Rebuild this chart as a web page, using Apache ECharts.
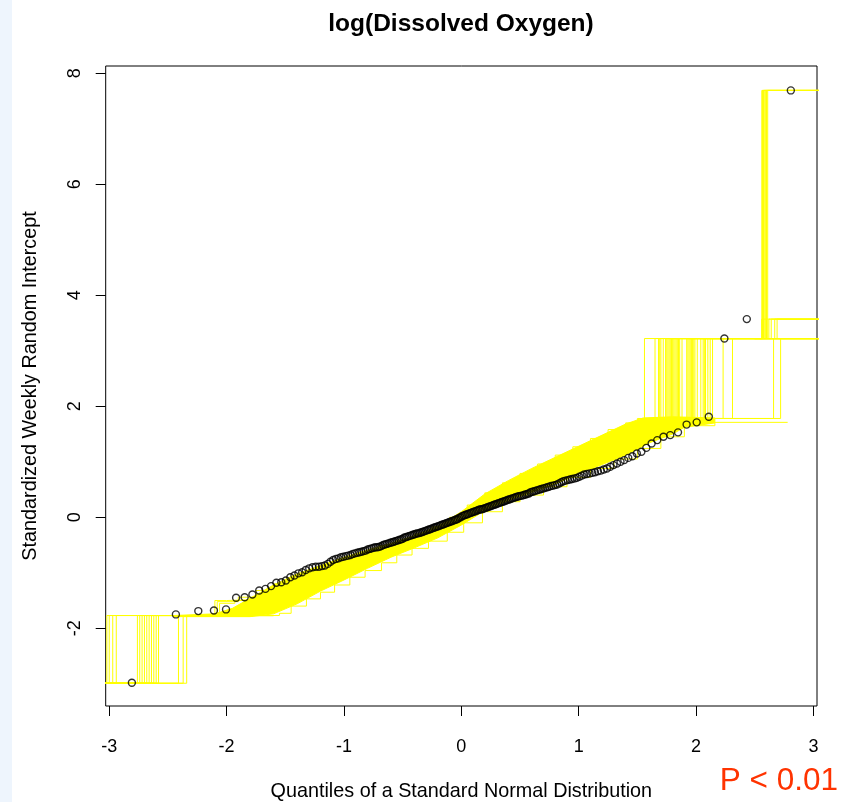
<!DOCTYPE html>
<html>
<head>
<meta charset="utf-8">
<script src="https://cdn.jsdelivr.net/npm/echarts@6/dist/echarts.min.js"></script>
<style>
  html, body { margin: 0; padding: 0; background: #ffffff; }
  #chart { width: 857px; height: 802px; }
</style>
</head>
<body>
<div id="chart"></div>
<script>
// Axis ticks
const xTicks = [-3, -2, -1, 0, 1, 2, 3];
const yTicks = [-2, 0, 2, 4, 6, 8];

// Theoretical normal quantiles (200 weeks)
const theoQ = [
  -2.807,-2.432,-2.241,-2.108,-2.005,-1.919,-1.846,-1.780,-1.722,-1.669,
  -1.621,-1.576,-1.534,-1.495,-1.457,-1.422,-1.388,-1.356,-1.326,-1.296,
  -1.268,-1.240,-1.213,-1.188,-1.163,-1.138,-1.115,-1.092,-1.069,-1.047,
  -1.026,-1.005,-0.984,-0.964,-0.944,-0.925,-0.906,-0.887,-0.869,-0.851,
  -0.833,-0.815,-0.798,-0.781,-0.764,-0.747,-0.731,-0.714,-0.698,-0.682,
  -0.667,-0.651,-0.636,-0.620,-0.605,-0.590,-0.575,-0.561,-0.546,-0.532,
  -0.517,-0.503,-0.489,-0.475,-0.461,-0.447,-0.433,-0.419,-0.406,-0.392,
  -0.379,-0.366,-0.352,-0.339,-0.326,-0.313,-0.300,-0.287,-0.274,-0.261,
  -0.248,-0.235,-0.222,-0.209,-0.196,-0.183,-0.171,-0.158,-0.145,-0.132,
  -0.120,-0.107,-0.094,-0.082,-0.069,-0.056,-0.044,-0.031,-0.019,-0.006,
  0.006,0.019,0.031,0.044,0.056,0.069,0.082,0.094,0.107,0.120,
  0.132,0.145,0.158,0.171,0.183,0.196,0.209,0.222,0.235,0.248,
  0.261,0.274,0.287,0.300,0.313,0.326,0.339,0.352,0.366,0.379,
  0.392,0.406,0.419,0.433,0.447,0.461,0.475,0.489,0.503,0.517,
  0.532,0.546,0.561,0.575,0.590,0.605,0.620,0.636,0.651,0.667,
  0.682,0.698,0.714,0.731,0.747,0.764,0.781,0.798,0.815,0.833,
  0.851,0.869,0.887,0.906,0.925,0.944,0.964,0.984,1.005,1.026,
  1.047,1.069,1.092,1.115,1.138,1.163,1.188,1.213,1.240,1.268,
  1.296,1.326,1.356,1.388,1.422,1.457,1.495,1.534,1.576,1.621,
  1.669,1.722,1.780,1.846,1.919,2.005,2.108,2.241,2.432,2.807
];

// Sorted standardized weekly random intercepts
const sampleQ = [
  -2.98,-1.75,-1.69,-1.68,-1.66,-1.45,-1.44,-1.39,-1.32,-1.29,
  -1.24,-1.18,-1.17,-1.14,-1.08,-1.05,-1.01,-0.99,-0.95,-0.92,
  -0.90,-0.89,-0.89,-0.88,-0.87,-0.84,-0.80,-0.77,-0.75,-0.74,
  -0.72,-0.71,-0.70,-0.69,-0.68,-0.66,-0.65,-0.64,-0.63,-0.62,
  -0.61,-0.60,-0.58,-0.57,-0.56,-0.55,-0.54,-0.54,-0.53,-0.52,
  -0.50,-0.49,-0.48,-0.47,-0.46,-0.45,-0.44,-0.43,-0.42,-0.41,
  -0.40,-0.39,-0.37,-0.36,-0.35,-0.34,-0.33,-0.32,-0.31,-0.30,
  -0.29,-0.29,-0.28,-0.27,-0.26,-0.25,-0.24,-0.23,-0.22,-0.21,
  -0.20,-0.19,-0.18,-0.17,-0.16,-0.15,-0.14,-0.13,-0.12,-0.11,
  -0.10,-0.09,-0.08,-0.07,-0.06,-0.05,-0.04,-0.03,-0.01,0.00,
  0.02,0.03,0.04,0.05,0.06,0.07,0.08,0.09,0.10,0.11,
  0.12,0.13,0.14,0.145,0.15,0.16,0.17,0.18,0.19,0.20,
  0.21,0.22,0.23,0.24,0.25,0.26,0.27,0.28,0.29,0.30,
  0.31,0.32,0.33,0.34,0.35,0.36,0.37,0.38,0.385,0.39,
  0.40,0.41,0.42,0.43,0.45,0.46,0.47,0.48,0.49,0.50,
  0.51,0.52,0.53,0.54,0.55,0.565,0.57,0.58,0.59,0.61,
  0.63,0.65,0.66,0.67,0.68,0.69,0.70,0.71,0.73,0.75,
  0.77,0.78,0.79,0.80,0.81,0.83,0.84,0.86,0.88,0.91,
  0.94,0.97,1.00,1.03,1.07,1.10,1.15,1.18,1.25,1.33,
  1.39,1.45,1.48,1.53,1.67,1.71,1.81,3.22,3.57,7.69
];

// Dense part of the simulated quantile curves: upper and lower edges
const bandUpper = [
  [-2.45,-1.77],[-2.1,-1.74],[-1.95,-1.64],[-1.8,-1.46],[-1.6,-1.22],
  [-1.4,-1.02],[-1.2,-0.87],[-1.0,-0.72],[-0.8,-0.59],[-0.6,-0.47],[-0.4,-0.33],
  [-0.2,-0.16],[0.0,0.10],[0.2,0.42],[0.4,0.66],[0.6,0.88],[0.8,1.08],
  [1.0,1.28],[1.2,1.48],[1.4,1.68],[1.55,1.79],[1.8,1.81],[2.16,1.79]
];
const bandLower = [
  [-2.45,-1.79],[-2.0,-1.79],[-1.8,-1.79],[-1.6,-1.74],[-1.4,-1.56],[-1.2,-1.33],
  [-1.0,-1.13],[-0.8,-0.92],[-0.6,-0.72],[-0.4,-0.55],[-0.2,-0.37],[0.0,-0.14],
  [0.2,0.12],[0.4,0.30],[0.6,0.45],[0.8,0.60],[1.0,0.78],[1.2,0.95],
  [1.4,1.12],[1.6,1.34],[1.8,1.50],[1.9,1.62],[2.16,1.70]
];

// A few individual simulated curves along the edges of the band
const simEdgeHigh = [
  [-2.45,-1.77],[-2.08,-1.52],[-1.9,-1.44],[-1.75,-1.32],[-1.6,-1.2],[-1.45,-1.06],
  [-1.3,-0.96],[-1.15,-0.84],[-1.0,-0.72],[-0.85,-0.62],[-0.7,-0.51],[-0.55,-0.41],
  [-0.4,-0.3],[-0.25,-0.17],[-0.1,0.0],[0.05,0.22],[0.2,0.44],[0.35,0.62],
  [0.5,0.79],[0.65,0.96],[0.8,1.12],[0.95,1.27],[1.1,1.42],[1.25,1.58],
  [1.4,1.70],[1.5,1.78]
];
const simEdgeLow = [
  [-2.45,-1.77],[-1.55,-1.73],[-1.45,-1.6],[-1.32,-1.47],[-1.2,-1.35],[-1.08,-1.22],
  [-0.95,-1.08],[-0.82,-0.96],[-0.68,-0.82],[-0.55,-0.68],[-0.42,-0.56],[-0.28,-0.43],
  [-0.12,-0.27],[0.02,-0.1],[0.18,0.1],[0.35,0.28],[0.5,0.4],[0.7,0.55],
  [0.9,0.72],[1.1,0.88],[1.3,1.05],[1.5,1.24],[1.7,1.45],[1.9,1.65],[2.16,1.71]
];
const simBoxes = [
  [-2.45,-1.77],[-2.1,-1.5],[-2.0,-1.47],[-1.55,-1.5],[-1.45,-1.3]
];
const simBoxes2 = [
  [-2.3,-1.77],[-2.06,-1.55],[-1.93,-1.5],[-1.62,-1.62],[-1.5,-1.42]
];

// Lower tail: x where a simulated curve climbs from -2.99 to -1.77
const lowJumps = [
  -3.02,-3.0,-2.97,-2.94,-2.76,-2.74,-2.72,-2.70,-2.68,-2.66,
  -2.64,-2.62,-2.60,-2.58,-2.41,-2.37,-2.34
];
const lowFloor = -2.99;
const lowStep = -1.77;

// Upper tail: [start, jump] where a simulated curve climbs from 1.78 to 3.22
const highJumps = [
  [1.50,1.56],[1.60,1.65],[1.62,1.68],[1.64,1.69],[1.65,1.70],[1.66,1.72],
  [1.68,1.74],[1.70,1.75],[1.70,1.76],[1.72,1.77],[1.72,1.78],[1.74,1.79],
  [1.74,1.80],[1.76,1.81],[1.76,1.82],[1.78,1.83],[1.78,1.84],[1.80,1.85],
  [1.80,1.86],[1.82,1.88],[1.86,1.92],[1.87,1.93],[1.88,1.94],[1.89,1.95],
  [1.90,1.96],[1.91,1.97],[1.92,1.98],[1.93,1.99],[1.95,2.01],[1.98,2.04],
  [2.0,2.06],[2.01,2.07],[2.02,2.08],[2.04,2.10],[2.06,2.12],[2.08,2.14],
  [2.16,2.23],[2.16,2.31],[2.16,2.66],[2.16,2.72]
];
const highBase = 1.78;
const highStep = 3.22;
// Curves that go on from 3.22 to 3.57, and from 3.22 to 7.69
const midJumps = [2.56, 2.62, 2.64, 2.67, 2.69];
const midStep = 3.57;
const topJumps = [2.56, 2.565, 2.57, 2.575, 2.58, 2.59, 2.60, 2.61];
const topStep = 7.69;
// One curve holding at 1.71 out to 2.78
const lateRun = [[2.16, 1.71], [2.78, 1.71]];

const YELLOW = '#ffff00';
const FONT = '"Liberation Sans", Arial, sans-serif';

function stepLine(points) {
  return {
    type: 'line', step: 'end', data: points, symbol: 'none', silent: true,
    lineStyle: { color: YELLOW, width: 1 }, z: 2, clip: true
  };
}

const series = [];

// Filled band
const bandPoly = bandUpper.concat(bandLower.slice().reverse());
series.push({
  type: 'custom', silent: true, clip: true, z: 1,
  data: [[0, 0]],
  renderItem: function (params, api) {
    return {
      type: 'polygon',
      shape: { points: bandPoly.map(function (p) { return api.coord(p); }) },
      style: { fill: YELLOW, stroke: YELLOW, lineWidth: 1 }
    };
  }
});

series.push(stepLine(simEdgeHigh));
series.push(stepLine(simEdgeLow));
series.push(stepLine(simBoxes));
series.push(stepLine(simBoxes2));

lowJumps.forEach(function (x) {
  series.push(stepLine([[-3.1, lowFloor], [x, lowStep], [-1.6, lowStep]]));
});
highJumps.forEach(function (j) {
  series.push(stepLine([[j[0], highBase], [j[1], highStep], [3.1, highStep]]));
});
midJumps.forEach(function (x) {
  series.push(stepLine([[2.5, highStep], [x, midStep], [3.1, midStep]]));
});
topJumps.forEach(function (x) {
  series.push(stepLine([[2.5, highStep], [x, topStep], [3.1, topStep]]));
});
series.push(stepLine(lateRun));

// Observed quantiles
series.push({
  type: 'scatter', silent: true, z: 5,
  data: theoQ.map(function (x, i) { return [x, sampleQ[i]]; }),
  symbol: 'circle', symbolSize: 7,
  itemStyle: { color: 'rgba(0,0,0,0)', borderColor: '#000', borderWidth: 1.4 }
});

const chart = echarts.init(document.getElementById('chart'), null, { renderer: 'canvas' });
chart.setOption({
  animation: false,
  backgroundColor: '#ffffff',
  title: {
    text: 'log(Dissolved Oxygen)',
    left: 456, top: 7, textAlign: 'center',
    textStyle: { fontSize: 24.5, fontWeight: 'bold', color: '#000', fontFamily: FONT }
  },
  grid: {
    left: 105.7, right: 40, top: 66, bottom: 96,
    outerBoundsMode: 'none', containLabel: false,
    show: true, borderColor: '#000', borderWidth: 1, backgroundColor: 'transparent'
  },
  xAxis: {
    type: 'value', min: -3.03, max: 3.03,
    axisLine: { show: false, onZero: false }, splitLine: { show: false },
    axisTick: { show: true, customValues: xTicks, length: 10, lineStyle: { color: '#000' } },
    axisLabel: { customValues: xTicks, margin: 32, fontSize: 18, color: '#000', fontFamily: FONT },
    name: 'Quantiles of a Standard Normal Distribution',
    nameLocation: 'middle', nameGap: 76,
    nameTextStyle: { fontSize: 19.8, color: '#000', fontFamily: FONT }
  },
  yAxis: {
    type: 'value', min: -3.40, max: 8.13,
    axisLine: { show: false, onZero: false }, splitLine: { show: false },
    axisTick: { show: true, customValues: yTicks, length: 10, lineStyle: { color: '#000' } },
    axisLabel: { customValues: yTicks, rotate: 90, margin: 22, fontSize: 18, color: '#000', fontFamily: FONT },
    name: 'Standardized Weekly Random Intercept',
    nameLocation: 'middle', nameGap: 65, nameRotate: 90,
    nameTextStyle: { fontSize: 19.8, color: '#000', fontFamily: FONT }
  },
  graphic: [
    { type: 'rect', left: 0, top: 0, z: -10, shape: { width: 12, height: 802 }, style: { fill: '#eef5fd' } },
    { type: 'text', right: 19, top: 765, style: { text: 'P < 0.01', fontSize: 31.5, fill: '#ff3300', fontFamily: FONT } }
  ],
  series: series
});
</script>
</body>
</html>
